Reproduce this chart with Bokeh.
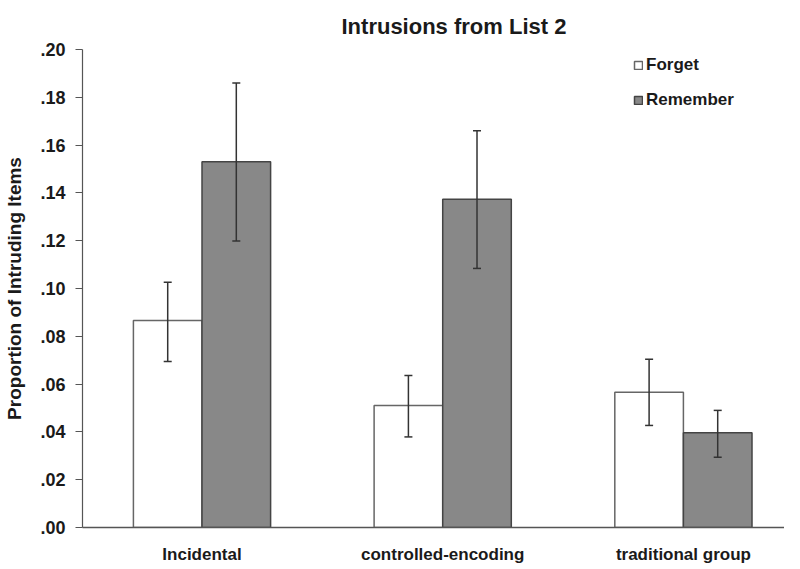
from bokeh.plotting import figure
from bokeh.models import (ColumnDataSource, Range1d, FixedTicker, Whisker, TeeHead,
                          Legend, LegendItem)
from bokeh.embed import file_html
from bokeh.resources import INLINE

title_text = "Intrusions from List 2"
y_label = "Proportion of Intruding Items"
categories = ["Incidental", "controlled-encoding", "traditional group"]
forget = [0.0866, 0.0510, 0.0566]
forget_upper = [0.1026, 0.0636, 0.0704]
forget_lower = [0.0695, 0.0379, 0.0427]
remember = [0.1530, 0.1373, 0.0396]
remember_upper = [0.186, 0.166, 0.0490]
remember_lower = [0.1199, 0.1084, 0.0294]
tick_values = [0.0, 0.02, 0.04, 0.06, 0.08, 0.10, 0.12, 0.14, 0.16, 0.18, 0.20]
tick_labels = [".00", ".02", ".04", ".06", ".08", ".10", ".12", ".14", ".16", ".18", ".20"]

FONT = "Liberation Sans"
TXT = "#1a1a1a"
bw = 0.285
xs = list(range(len(categories)))

src_f = ColumnDataSource(dict(x=[i - bw / 2 for i in xs], top=forget,
                              upper=forget_upper, lower=forget_lower))
src_r = ColumnDataSource(dict(x=[i + bw / 2 for i in xs], top=remember,
                              upper=remember_upper, lower=remember_lower))

p = figure(frame_width=702, frame_height=478, output_backend="svg", toolbar_location=None,
           x_range=Range1d(-0.4965, 2.42), y_range=Range1d(0, 0.2),
           min_border_left=82, min_border_right=0, min_border_top=45,
           min_border_bottom=30, title=title_text)
p.outline_line_color = None
p.grid.visible = False
p.background_fill_color = "white"

p.title.align = "left"
p.title.offset = 259
p.title.standoff = 22
p.title.text_font = FONT
p.title.text_font_style = "bold"
p.title.text_font_size = "22px"
p.title.text_color = TXT

rf = p.vbar(x="x", top="top", width=bw, bottom=0, source=src_f,
            fill_color="white", line_color="#666666", line_width=1.5)
rr = p.vbar(x="x", top="top", width=bw, bottom=0, source=src_r,
            fill_color="#888888", line_color="#444444", line_width=1.5)

for src in (src_f, src_r):
    w = Whisker(base="x", upper="upper", lower="lower", source=src, level="overlay",
                line_color="#333333", line_width=1.5,
                upper_head=TeeHead(size=8, line_color="#333333", line_width=1.5),
                lower_head=TeeHead(size=8, line_color="#333333", line_width=1.5))
    p.add_layout(w)

# y axis
p.yaxis.ticker = FixedTicker(ticks=tick_values)
p.yaxis.major_label_overrides = {v: l for v, l in zip(tick_values, tick_labels)}
p.yaxis.minor_tick_line_color = None
p.yaxis.major_tick_out = 7
p.yaxis.major_tick_in = 0
p.yaxis.axis_line_color = "#555555"
p.yaxis.axis_line_width = 1.2
p.yaxis.major_tick_line_color = "#555555"
p.yaxis.major_label_text_font = FONT
p.yaxis.major_label_text_font_style = "bold"
p.yaxis.major_label_text_font_size = "18px"
p.yaxis.major_label_text_color = TXT
p.yaxis.major_label_standoff = 10
p.yaxis.axis_label = y_label
p.yaxis.axis_label_text_font = FONT
p.yaxis.axis_label_text_font_style = "bold"
p.yaxis.axis_label_text_font_size = "19px"
p.yaxis.axis_label_text_color = TXT
p.yaxis.axis_label_standoff = 12

# x axis
p.xaxis.ticker = FixedTicker(ticks=xs)
p.xaxis.major_label_overrides = {i: c for i, c in zip(xs, categories)}
p.xaxis.minor_tick_line_color = None
p.xaxis.major_tick_line_color = None
p.xaxis.axis_line_color = "#555555"
p.xaxis.axis_line_width = 1.5
p.xaxis.major_label_text_font = FONT
p.xaxis.major_label_text_font_style = "bold"
p.xaxis.major_label_text_font_size = "17px"
p.xaxis.major_label_text_color = TXT
p.xaxis.major_label_standoff = 11

legend = Legend(items=[LegendItem(label="Forget", renderers=[rf]),
                       LegendItem(label="Remember", renderers=[rr])],
                location=(551, 417), padding=0, margin=0, spacing=15,
                glyph_width=10, glyph_height=10, label_height=20,
                label_standoff=3, border_line_color=None,
                background_fill_alpha=0,
                label_text_font=FONT, label_text_font_style="bold",
                label_text_font_size="17px", label_text_color=TXT)
p.add_layout(legend)

open("out.html", "w").write(file_html(p, INLINE))
